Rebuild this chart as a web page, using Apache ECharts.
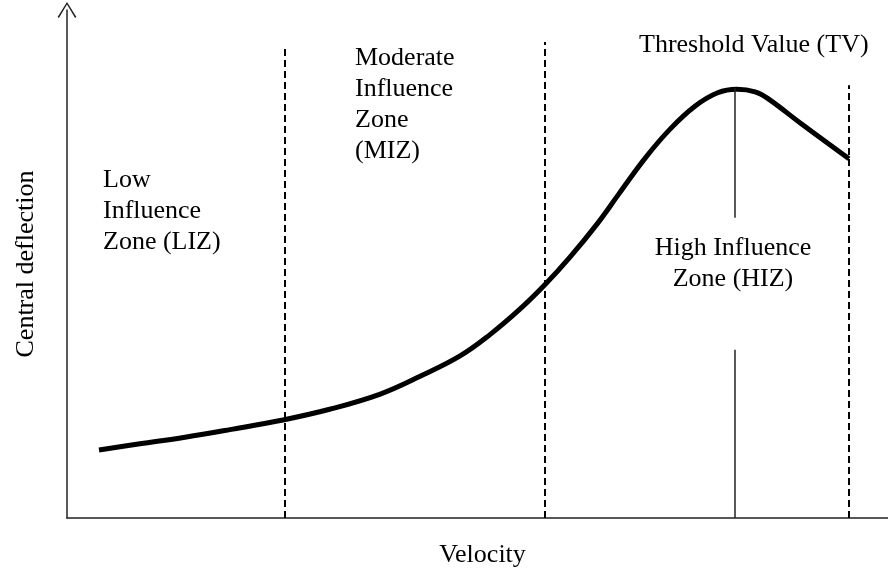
<!DOCTYPE html>
<html>
<head>
<meta charset="utf-8">
<script src="https://cdn.jsdelivr.net/npm/echarts@6/dist/echarts.min.js"></script>
<style>
  html, body { margin: 0; padding: 0; background: #fff; }
  #chart { width: 888px; height: 568px; }
</style>
</head>
<body>
<div id="chart"></div>
<script>
// curve (velocity, central deflection), both 0..100
const velocity   = [3.85, 8.78, 14.2, 19.6, 26.0, 31.6, 37.7, 42.5, 47.3, 50.9, 54.5, 57.5, 60.5, 63.8, 66.5, 69.6, 72.6, 75.6, 78.3, 80.6, 82.8, 84.4, 88.2, 94.1];
const deflection = [13.4, 14.6, 15.9, 17.4, 19.3, 21.4, 24.4, 27.9, 31.9, 36.1, 41.1, 45.9, 51.3, 57.9, 64.0, 70.9, 76.6, 81.1, 83.7, 84.4, 83.9, 82.5, 77.8, 70.7];

// zone boundaries (dashed) and how high they reach
const zoneBounds = [26.2, 57.5, 94.1];
const zoneTops   = [93.1, 93.7, 85.2];

// threshold value line (solid, broken where the HIZ label sits)
const tvX = 80.4;
const tvSegments = [[59.1, 84.6], [0, 33.1]];

const FONT = '"Liberation Serif", "DejaVu Serif", serif';
const arrowPath = 'path://M10,0 L20,16 L18.6,17 L10,2.6 L1.4,17 L0,16 Z';

const curve = velocity.map(function (v, i) { return [v, deflection[i]]; });

const dashedLines = zoneBounds.map(function (x, i) {
  return [{ coord: [x, 0] }, { coord: [x, zoneTops[i]] }];
});
const tvLines = tvSegments.map(function (s) {
  return [{ coord: [tvX, s[0]] }, { coord: [tvX, s[1]] }];
});

const chart = echarts.init(document.getElementById('chart'));
chart.setOption({
  animation: false,
  backgroundColor: '#fff',
  grid: { left: 67, right: -10, top: 10, bottom: 50, containLabel: false, outerBoundsMode: 'none' },
  xAxis: {
    type: 'value', min: 0, max: 100,
    name: 'Velocity', nameLocation: 'middle', nameGap: 24,
    nameTextStyle: { fontFamily: FONT, fontSize: 26, color: '#000' },
    axisLine: { lineStyle: { color: '#222', width: 1.5 }, symbol: ['none', arrowPath], symbolSize: [20, 16] },
    axisTick: { show: false }, axisLabel: { show: false }, splitLine: { show: false }
  },
  yAxis: {
    type: 'value', min: 0, max: 100,
    name: 'Central deflection', nameLocation: 'middle', nameGap: 28, nameRotate: 90,
    nameTextStyle: { fontFamily: FONT, fontSize: 26, color: '#000' },
    axisLine: { show: true, lineStyle: { color: '#222', width: 1.5 }, symbol: ['none', arrowPath], symbolSize: [20, 16] },
    axisTick: { show: false }, axisLabel: { show: false }, splitLine: { show: false }
  },
  series: [
    {
      type: 'line',
      data: curve,
      smooth: 0.4,
      showSymbol: false,
      lineStyle: { color: '#000', width: 5 },
      markLine: {
        silent: true, symbol: 'none', label: { show: false },
        lineStyle: { color: '#000', width: 2, type: [7, 4] },
        data: dashedLines
      }
    },
    {
      type: 'line',
      data: [],
      markLine: {
        silent: true, symbol: 'none', label: { show: false },
        lineStyle: { color: '#222', width: 1.5, type: 'solid' },
        data: tvLines
      }
    }
  ],
  graphic: [
    { type: 'text', x: 639, y: 45, style: { text: 'Threshold Value (TV)', font: '26px ' + FONT, fill: '#000', textVerticalAlign: 'middle' } },
    { type: 'text', x: 355, y: 58, style: { text: 'Moderate\nInfluence\nZone\n(MIZ)', font: '26px ' + FONT, lineHeight: 31, fill: '#000', textVerticalAlign: 'top', y: -15 } },
    { type: 'text', x: 103, y: 180, style: { text: 'Low\nInfluence\nZone (LIZ)', font: '26px ' + FONT, lineHeight: 31, fill: '#000', textVerticalAlign: 'top', y: -15 } },
    { type: 'text', x: 733, y: 248, style: { text: 'High Influence\nZone (HIZ)', font: '26px ' + FONT, lineHeight: 31, fill: '#000', textAlign: 'center', textVerticalAlign: 'top', y: -15 } }
  ]
});
</script>
</body>
</html>
